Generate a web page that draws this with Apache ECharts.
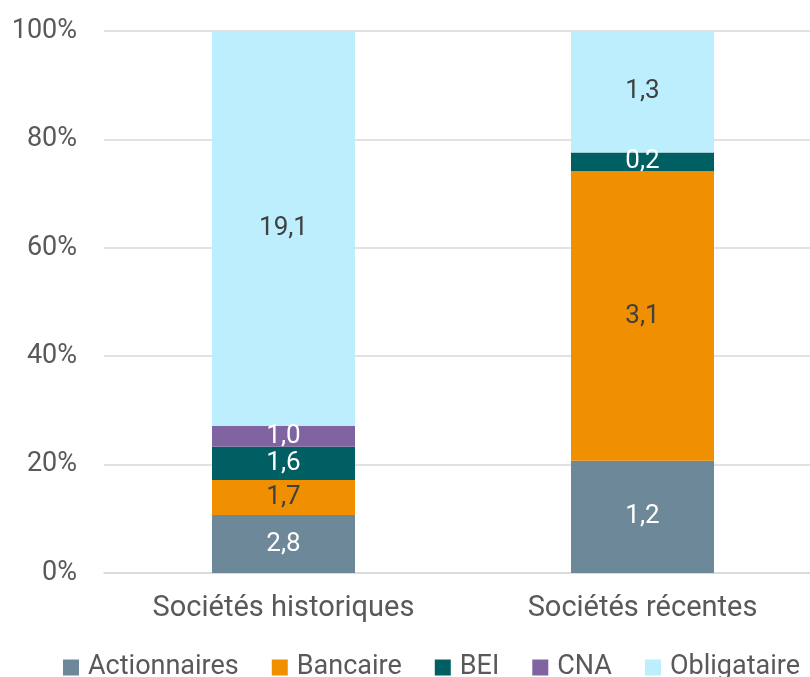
<!DOCTYPE html>
<html lang="fr">
<head>
<meta charset="UTF-8" />
<title>Financement</title>
</head>
<body>
<style>
* { margin: 0; padding: 0; }
#chart { width: 810px; height: 677px; background: #fff; }
</style>
<div id="chart"></div>
<script src="https://cdn.jsdelivr.net/npm/echarts@6/dist/echarts.min.js"></script>
<script>
const categories = ['Sociétés historiques', 'Sociétés récentes'];
const seriesNames = ['Actionnaires', 'Bancaire', 'BEI', 'CNA', 'Obligataire'];
const actionnaires = [2.8, 1.2];
const bancaire = [1.7, 3.1];
const bei = [1.6, 0.2];
const cna = [1.0, 0];
const obligataire = [19.1, 1.3];
const yTicks = [0, 20, 40, 60, 80, 100];

const values = [actionnaires, bancaire, bei, cna, obligataire];
const colors = ['#6d8898', '#f09000', '#005f63', '#8064a2', '#bdeefe'];
const labelColors = ['#ffffff', '#404040', '#ffffff', '#ffffff', '#404040'];

// parts de chaque source dans le total de la catégorie
const totals = categories.map((c, i) => values.reduce((s, arr) => s + arr[i], 0));
const font = 'Roboto';

const series = values.map((arr, k) => ({
  name: seriesNames[k],
  type: 'bar',
  stack: 'total',
  barWidth: 143,
  itemStyle: { color: colors[k] },
  label: {
    show: true,
    position: 'inside',
    color: labelColors[k],
    fontFamily: font,
    fontSize: 26,
    formatter: p => p.data.raw ? p.data.raw.toFixed(1).replace('.', ',') : ''
  },
  data: arr.map((v, i) => ({ value: v / totals[i] * 100, raw: v }))
}));

const chart = echarts.init(document.getElementById('chart'));
chart.setOption({
  animation: false,
  color: colors,
  grid: { left: 104, width: 718, top: 31, bottom: 104, outerBoundsMode: 'none' },
  legend: {
    left: 63,
    top: 654,
    padding: 0,
    itemWidth: 16,
    itemHeight: 16,
    itemGap: 33,
    icon: 'rect',
    selectedMode: false,
    textStyle: { color: '#595959', fontFamily: font, fontSize: 27, padding: [0, 0, 0, 4] },
    data: seriesNames
  },
  xAxis: {
    type: 'category',
    data: categories,
    axisTick: { show: false },
    axisLine: { lineStyle: { color: '#d9d9d9', width: 1.5 } },
    axisLabel: { color: '#595959', fontFamily: font, fontSize: 29, margin: 21 }
  },
  yAxis: {
    type: 'value',
    min: yTicks[0],
    max: yTicks[yTicks.length - 1],
    interval: 20,
    axisLabel: { color: '#595959', fontFamily: font, fontSize: 27, margin: 27, formatter: '{value}%' },
    splitLine: { lineStyle: { color: '#d9d9d9', width: 1.5 } },
    axisLine: { show: false },
    axisTick: { show: false }
  },
  series: series
});
</script>
</body>
</html>
